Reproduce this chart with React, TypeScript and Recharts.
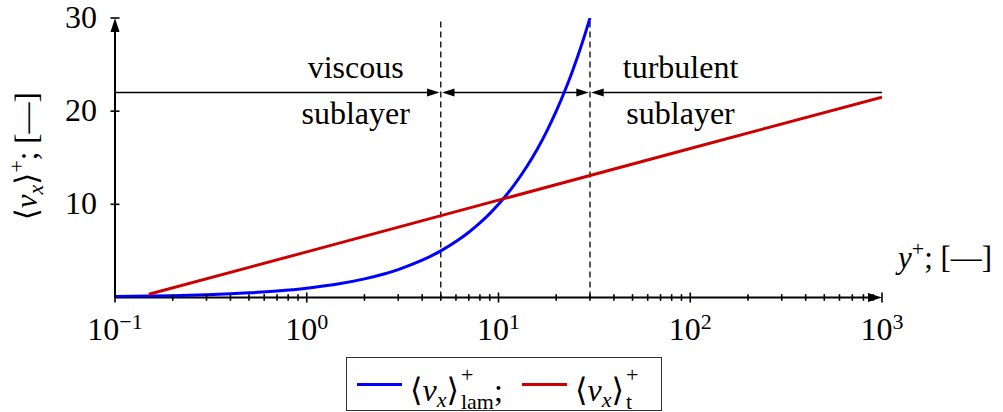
import React from "react";
import {
  LineChart,
  Line,
  XAxis,
  YAxis,
  ReferenceLine,
  ReferenceDot,
  Legend,
} from "recharts";

const FONT = "Liberation Serif, Times New Roman, Times, DejaVu Serif, serif";

// laminar profile (blue)
const lamYPlus = [0.1, 0.15, 0.2, 0.3, 0.4, 0.5, 0.7, 1, 1.5, 2, 2.5, 3, 4, 5, 6, 7, 8, 9, 10, 12, 14, 16, 18, 20, 22, 24, 26, 28, 30];
const lamVel = [0.1, 0.15, 0.2, 0.3, 0.4, 0.5, 0.7, 1, 1.5, 2, 2.5, 3, 4, 5, 6, 7, 8, 9, 10, 12, 14, 16, 18, 20, 22, 24, 26, 28, 30];

// log-law profile (red)
const turbYPlus = [0.15, 1, 10, 100, 1000];
const turbVel = [0.35, 4.9, 10.45, 16.0, 21.5];

// sublayer limits and arrow level
const sublayerBounds = [5, 30];
const arrowLevel = 22;

const annotationX = [1.8, 89];
const annotationTop = ["viscous", "turbulent"];
const annotationBottom = ["sublayer", "sublayer"];

const xMajor = [0.1, 1, 10, 100, 1000];
const xMajorExp = ["\u22121", "0", "1", "2", "3"];
const xMantissa = [2, 3, 4, 5, 6, 7, 8, 9];
const xMinor = xMajor.slice(0, 4).flatMap((d) => xMantissa.map((m) => d * m));
const xTicks = [...xMajor, ...xMinor].sort((a, b) => a - b);
const yTicks = [10, 20, 30];

const lamData = lamYPlus.map((y, i) => ({ y, v: lamVel[i] }));
const turbData = turbYPlus.map((y, i) => ({ y, v: turbVel[i] }));

const legendLabelWidth = [104, 72];

const XTick = (props: any) => {
  const { x, y, payload } = props;
  const idx = xMajor.indexOf(payload.value);
  const major = idx >= 0;
  const h = major ? 5 : 3.3;
  return (
    <g>
      <line x1={x} x2={x} y1={y - h} y2={y + h} stroke="#000" strokeWidth={1.6} />
      {major && (
        <text x={x} y={y + 42.5} textAnchor="middle" fontFamily={FONT} fontSize={32} fill="#000">
          10
          <tspan dy={-11} fontSize={22}>
            {xMajorExp[idx]}
          </tspan>
        </text>
      )}
    </g>
  );
};

const YTick = (props: any) => {
  const { x, y, payload } = props;
  return (
    <g>
      <line x1={x - 4.5} x2={x + 4.5} y1={y} y2={y} stroke="#000" strokeWidth={1.6} />
      <text x={x - 18} y={y + 10} textAnchor="end" fontFamily={FONT} fontSize={32} fill="#000">
        {payload.value}
      </text>
    </g>
  );
};

const YLabel = (props: any) => {
  const vb = props.viewBox;
  const cy = vb.y + vb.height / 2 - 1.5;
  const bx = 37;
  return (
    <text
      x={bx}
      y={cy}
      transform={`rotate(-90 ${bx} ${cy})`}
      textAnchor="middle"
      fontFamily={FONT}
      fontSize={31}
      fill="#000"
    >
      {"\u27E8"}
      <tspan fontStyle="italic">v</tspan>
      <tspan fontStyle="italic" fontSize={22} dy={6}>x</tspan>
      <tspan dy={-6}>{"\u27E9"}</tspan>
      <tspan fontSize={22} dy={-13}>+</tspan>
      <tspan dy={13}>; [—]</tspan>
    </text>
  );
};

const XLabel = (props: any) => {
  const vb = props.viewBox;
  return (
    <text x={vb.x + vb.width + 16} y={vb.y - 29.5} fontFamily={FONT} fontSize={31} fill="#000">
      <tspan fontStyle="italic">y</tspan>
      <tspan fontSize={22} dy={-12}>+</tspan>
      <tspan dy={12}>; [—]</tspan>
    </text>
  );
};

type ArrowOpts = { start?: boolean; end?: boolean; w: number; len: number; half: number; inset?: number };

const arrowShape = (o: ArrowOpts) => (p: any) => {
  const { x1, y1, x2, y2 } = p;
  const dx = x2 - x1;
  const dy = y2 - y1;
  const L = Math.hypot(dx, dy) || 1;
  const ux = dx / L;
  const uy = dy / L;
  const ins = o.inset || 0;
  const head = (tx: number, ty: number, sx: number, sy: number) => {
    const bx = tx - sx * o.len;
    const by = ty - sy * o.len;
    return `${tx},${ty} ${bx - sy * o.half},${by + sx * o.half} ${bx + sy * o.half},${by - sx * o.half}`;
  };
  const sx1 = x1 + ux * ins;
  const sy1 = y1 + uy * ins;
  const sx2 = x2 - ux * ins;
  const sy2 = y2 - uy * ins;
  return (
    <g>
      <line
        x1={o.start ? sx1 + ux * o.len * 0.5 : x1}
        y1={o.start ? sy1 + uy * o.len * 0.5 : y1}
        x2={o.end ? sx2 - ux * o.len * 0.5 : x2}
        y2={o.end ? sy2 - uy * o.len * 0.5 : y2}
        stroke="#000"
        strokeWidth={o.w}
      />
      {o.end && <polygon points={head(sx2, sy2, ux, uy)} fill="#000" />}
      {o.start && <polygon points={head(sx1, sy1, -ux, -uy)} fill="#000" />}
    </g>
  );
};

const Annotation = (props: any) => {
  const { cx, cy, index } = props;
  return (
    <g fontFamily={FONT} fontSize={32} fill="#000">
      <text x={cx} y={cy - 14.5} textAnchor="middle">
        {annotationTop[index]}
      </text>
      <text x={cx} y={cy + 31.5} textAnchor="middle">
        {annotationBottom[index]}
      </text>
    </g>
  );
};

const MathLabel = ({ sub }: { sub: string }) => (
  <span style={{ whiteSpace: "nowrap" }}>
    {"\u27E8"}
    <i>v</i>
    <i style={{ fontSize: 22, position: "relative", top: 6 }}>x</i>
    {"\u27E9"}
    <span
      style={{
        display: "inline-flex",
        flexDirection: "column",
        fontSize: 22,
        lineHeight: "27px",
        verticalAlign: "19px",
        marginLeft: 2,
      }}
    >
      <span>+</span>
      <span>{sub}</span>
    </span>
  </span>
);

const renderLegend = (props: any) => {
  const payload = props.payload || [];
  return (
    <div
      style={{
        border: "1.3px solid #333",
        background: "#fff",
        display: "flex",
        alignItems: "center",
        width: 316,
        height: 54,
        boxSizing: "border-box",
        padding: "0 0 0 10px",
        fontFamily: FONT,
        fontSize: 32,
        color: "#000",
        lineHeight: "30px",
        transform: "translateX(-50%)",
      }}
    >
      {payload.map((e: any, i: number) => (
        <div key={i} style={{ display: "flex", alignItems: "center", marginLeft: i ? 8 : 0 }}>
          <div style={{ width: 45, height: 3, background: e.color }} />
          <span style={{ marginLeft: 8, marginTop: 8, width: legendLabelWidth[i] }}>
            <MathLabel sub={e.value} />
            {i < payload.length - 1 ? ";" : ""}
          </span>
        </div>
      ))}
    </div>
  );
};

export default function App() {
  return (
    <div style={{ position: "absolute", left: 0, top: 0, width: 1003, height: 412, background: "#fff" }}>
      <LineChart width={1003} height={412} margin={{ top: 18, right: 121, bottom: 74.5, left: 55 }}>
        <XAxis
          dataKey="y"
          type="number"
          scale="log"
          domain={[0.1, 1000]}
          allowDataOverflow
          ticks={xTicks}
          interval={0}
          axisLine={false}
          tickLine={false}
          tickSize={0}
          tickMargin={0}
          height={40}
          tick={XTick}
          label={{ content: XLabel }}
        />
        <YAxis
          type="number"
          domain={[0, 30]}
          allowDataOverflow
          ticks={yTicks}
          interval={0}
          axisLine={false}
          tickLine={false}
          tickSize={0}
          tickMargin={0}
          width={60}
          tick={YTick}
          label={{ content: YLabel }}
        />
        <Legend
          layout="vertical"
          verticalAlign="middle"
          align="center"
          content={renderLegend}
          wrapperStyle={{ left: 504, top: 357, width: "auto", height: "auto" }}
        />
        {sublayerBounds.map((b) => (
          <ReferenceLine
            key={`d${b}`}
            x={b}
            stroke="#000"
            strokeWidth={1.3}
            strokeDasharray="6 4"
            ifOverflow="visible"
          />
        ))}
        <ReferenceLine
          segment={[{ x: 0.1, y: arrowLevel }, { x: sublayerBounds[0], y: arrowLevel }]}
          ifOverflow="visible"
          shape={arrowShape({ end: true, w: 1.4, len: 12.5, half: 4, inset: 1.2 })}
        />
        <ReferenceLine
          segment={[{ x: sublayerBounds[0], y: arrowLevel }, { x: sublayerBounds[1], y: arrowLevel }]}
          ifOverflow="visible"
          shape={arrowShape({ start: true, end: true, w: 1.4, len: 12.5, half: 4, inset: 1.2 })}
        />
        <ReferenceLine
          segment={[{ x: sublayerBounds[1], y: arrowLevel }, { x: 1000, y: arrowLevel }]}
          ifOverflow="visible"
          shape={arrowShape({ start: true, w: 1.4, len: 12.5, half: 4, inset: 1.2 })}
        />
        {annotationX.map((ax, i) => (
          <ReferenceDot
            key={`a${i}`}
            x={ax}
            y={arrowLevel}
            ifOverflow="visible"
            shape={(p: any) => <Annotation {...p} index={i} />}
          />
        ))}
        <ReferenceLine
          segment={[{ x: 0.1, y: 0 }, { x: 1000, y: 0 }]}
          ifOverflow="visible"
          shape={arrowShape({ end: true, w: 2, len: 14, half: 4.5 })}
        />
        <ReferenceLine
          segment={[{ x: 0.1, y: 0 }, { x: 0.1, y: 30 }]}
          ifOverflow="visible"
          shape={arrowShape({ end: true, w: 2, len: 14, half: 4.5 })}
        />
        <Line
          data={lamData}
          dataKey="v"
          name="lam"
          type="monotone"
          stroke="#0000ff"
          strokeWidth={3}
          dot={false}
          activeDot={false}
          isAnimationActive={false}
        />
        <Line
          data={turbData}
          dataKey="v"
          name="t"
          type="linear"
          stroke="#cc0000"
          strokeWidth={3}
          dot={false}
          activeDot={false}
          isAnimationActive={false}
        />
      </LineChart>
    </div>
  );
}
